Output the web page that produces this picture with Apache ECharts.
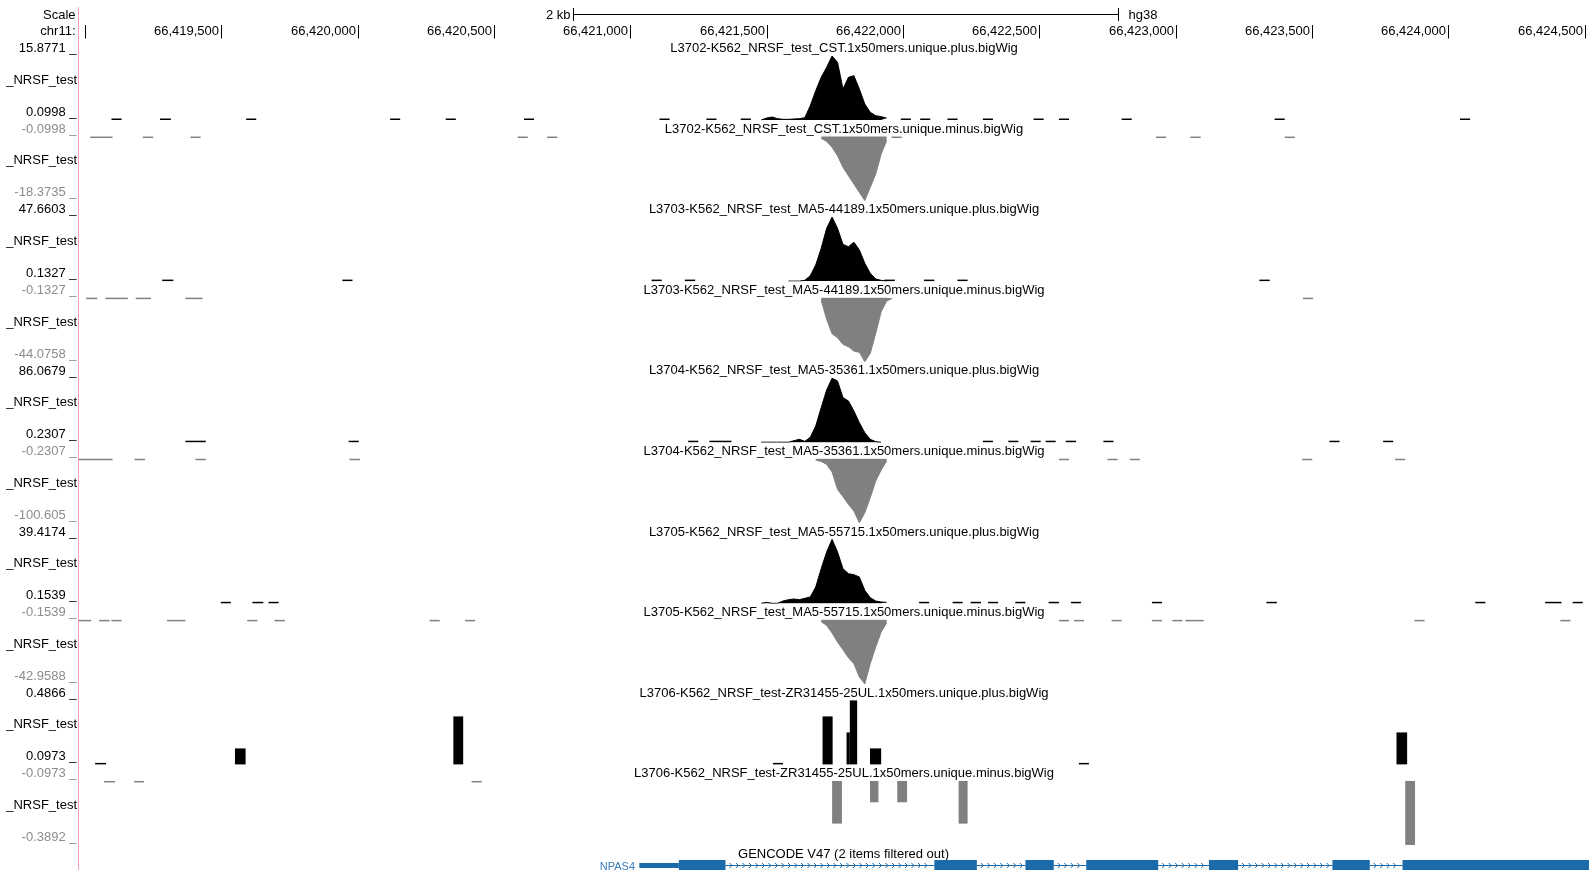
<!DOCTYPE html>
<html><head><meta charset="utf-8">
<script src="https://cdn.jsdelivr.net/npm/echarts@6/dist/echarts.min.js"></script>
<style>html,body{margin:0;padding:0;background:#fff;overflow:hidden}#c{width:1589px;height:870px}</style>
</head><body><div id="c"></div><script>
// ---------- data ----------
const CHROM_LABEL = 'chr11:';
const VIEW_START = 66418978, VIEW_END = 66424516;
const ORIGIN = 66419000; // offsets in dash arrays are relative to this position
const RULER_TICKS = [66419000,66419500,66420000,66420500,66421000,66421500,66422000,66422500,66423000,66423500,66424000,66424500];
const RULER_LABELS = ['','66,419,500','66,420,000','66,420,500','66,421,000','66,421,500','66,422,000','66,422,500','66,423,000','66,423,500','66,424,000','66,424,500'];
const SCALE_BAR = [66420788, 66422788];
const SCALE_TEXT = ['2 kb', 'hg38'];

const TITLES = [
 'L3702-K562_NRSF_test_CST.1x50mers.unique.plus.bigWig',
 'L3702-K562_NRSF_test_CST.1x50mers.unique.minus.bigWig',
 'L3703-K562_NRSF_test_MA5-44189.1x50mers.unique.plus.bigWig',
 'L3703-K562_NRSF_test_MA5-44189.1x50mers.unique.minus.bigWig',
 'L3704-K562_NRSF_test_MA5-35361.1x50mers.unique.plus.bigWig',
 'L3704-K562_NRSF_test_MA5-35361.1x50mers.unique.minus.bigWig',
 'L3705-K562_NRSF_test_MA5-55715.1x50mers.unique.plus.bigWig',
 'L3705-K562_NRSF_test_MA5-55715.1x50mers.unique.minus.bigWig',
 'L3706-K562_NRSF_test-ZR31455-25UL.1x50mers.unique.plus.bigWig',
 'L3706-K562_NRSF_test-ZR31455-25UL.1x50mers.unique.minus.bigWig'
];
const SHORT_LABEL = '_NRSF_test';
const TOP_LABELS = ['15.8771','-0.0998','47.6603','-0.1327','86.0679','-0.2307','39.4174','-0.1539','0.4866','-0.0973'];
const BOTTOM_LABELS = ['0.0998','-18.3735','0.1327','-44.0758','0.2307','-100.605','0.1539','-42.9588','0.0973','-0.3892'];
const AXIS_TOP = [15.8771,-0.0998,47.6603,-0.1327,86.0679,-0.2307,39.4174,-0.1539,0.4866,-0.0973];
const AXIS_BOTTOM = [0.0998,-18.3735,0.1327,-44.0758,0.2307,-100.605,0.1539,-42.9588,0.0973,-0.3892];

// peak coverage sampled every 20 bp
const PEAK_POS = [66421480,66421500,66421520,66421540,66421560,66421580,66421600,66421620,66421640,66421660,66421680,66421700,66421720,66421740,66421760,66421780,66421800,66421820,66421840,66421860,66421880,66421900,66421920,66421940,66421960];
const T1_PLUS  = [0.1,0.59,0.84,0.43,0.26,0.26,0.35,0.43,0.67,3.63,7.33,10.62,13.08,15.88,14.31,7.74,10.62,11.03,7.74,4.04,1.99,1.17,0.92,0.59,null];
const T1_MINUS = [null,null,null,null,null,null,null,null,null,null,null,-0.62,-1.48,-3.19,-5.58,-8.9,-11.28,-13.66,-16.04,-18.37,-14.61,-10.8,-5.09,-1.29,null];
const T2_PLUS  = [null,null,null,null,null,0.13,0.13,0.13,0.7,4.17,12.09,24.46,39.3,47.66,39.3,27.4,25.7,29.0,23.3,13.4,5.9,1.7,0.7,0.13,null];
const T2_MINUS = [null,null,null,null,null,null,null,null,null,null,null,-1.78,-15.0,-25.0,-27.64,-32.22,-33.82,-36.8,-37.7,-44.07,-38.4,-24.67,-9.79,-2.47,-0.64];
const T3_PLUS  = [0.23,0.23,0.23,0.23,0.23,0.23,2.3,4.1,1.4,6.76,21.96,46.5,70.2,86.06,82.3,59.96,55.5,42.1,26.4,13.0,4.1,0.95,0.23,null,null];
const T3_MINUS = [null,null,null,null,null,null,null,null,null,null,-2.27,-4.36,-9.07,-21.09,-48.27,-59.77,-71.8,-82.26,-100.6,-84.87,-61.34,-35.2,-17.95,-3.84,null];
const T4_PLUS  = [0.15,0.75,0.15,0.15,1.56,2.38,2.79,2.38,3.2,4.02,10.15,21.4,31.6,39.41,31.6,21.4,18.33,17.72,16.29,8.1,3.61,1.56,0.95,0.75,null];
const T4_MINUS = [null,null,null,null,null,null,null,null,null,null,null,-1.4,-3.86,-8.98,-15.0,-20.13,-25.48,-29.49,-38.4,-42.95,-29.49,-18.35,-8.31,-2.29,null];

// isolated single-read marks: [startOffset, endOffset] from ORIGIN
const T1_PLUS_DASHES = [[97,134],[275,315],[591,628],[1119,1156],[1323,1360],[1610,1647],[2107,2144],[2279,2316],[2405,2442],[2992,3029],[3063,3100],[3163,3200],[3293,3330],[3479,3516],[3572,3609],[3802,3839],[4363,4400],[5043,5080]];
const T1_MINUS_DASHES = [[19,101],[212,250],[387,424],[1587,1624],[1695,1732],[2958,2995],[3928,3965],[4054,4092],[4400,4437]];
const T2_PLUS_DASHES = [[283,324],[944,981],[2078,2115],[2200,2238],[2932,2970],[3077,3115],[3200,3237],[4307,4345]];
const T2_MINUS_DASHES = [[4,45],[75,157],[186,242],[368,431],[4467,4504]];
const T3_PLUS_DASHES = [[368,443],[967,1004],[2212,2249],[2290,2371],[3293,3330],[3386,3423],[3468,3505],[3523,3560],[3597,3635],[3735,3772],[4564,4601],[4761,4798]];
const T3_MINUS_DASHES = [[-22,101],[182,220],[405,443],[970,1008],[3572,3609],[3750,3787],[3832,3869],[4464,4501],[4805,4842]];
const T4_PLUS_DASHES = [[498,535],[614,654],[673,710],[3059,3096],[3182,3219],[3248,3286],[3312,3349],[3412,3449],[3534,3572],[3616,3653],[3913,3950],[4333,4371],[5099,5136],[5355,5415],[5456,5493]];
const T4_MINUS_DASHES = [[-22,23],[52,90],[97,134],[301,368],[595,632],[695,733],[1264,1301],[1394,1431],[3572,3609],[3627,3664],[3765,3802],[3913,3950],[3988,4025],[4036,4103],[4876,4913],[5411,5448]];

// track 5 read pile-ups: [start, end, value]
const T5_PLUS_BARS = [[66419037,66419077,0.0973],[66419550,66419589,0.1946],[66420351,66420387,0.3892],[66421523,66421560,0.0973],[66421705,66421742,0.3892],[66421793,66421805,0.2919],[66421805,66421832,0.4866],[66421879,66421920,0.1946],[66422645,66422682,0.0973],[66423810,66423849,0.2919]];
const T5_MINUS_BARS = [[66419070,66419110,-0.0973],[66419180,66419216,-0.0973],[66420418,66420455,-0.0973],[66421740,66421776,-0.2919],[66421879,66421910,-0.1946],[66421979,66422015,-0.1946],[66422204,66422237,-0.2919],[66423842,66423878,-0.3892]];

// gene model
const GENE_TITLE = 'GENCODE V47 (2 items filtered out)';
const GENE_NAME = 'NPAS4';
const GENE_BLOCKS = [[66421033,66421178,0],[66421178,66421349,1],[66422115,66422271,1],[66422449,66422553,1],[66422672,66422936,1],[66423122,66423229,1],[66423575,66423712,1],[66423832,66424600,1]];
const GENE_INTRONS = [[66421349,66422115],[66422271,66422449],[66422553,66422672],[66422936,66423122],[66423229,66423575],[66423712,66423832]];

// ---------- layout / style ----------
const FONT = '13px "Liberation Sans", Arial, Helvetica, sans-serif';
const LEFT = 79, TOP0 = 56, STEP = 80.55, H = 64, TITLE_X = 844, LABEL_X = 76.5;
const PLUS_COLOR = '#000000', MINUS_COLOR = '#808080', GENE_COLOR = '#1b6aaa';

const chart = echarts.init(document.getElementById('c'), null, {renderer: 'canvas'});

const peaks = [T1_PLUS,T1_MINUS,T2_PLUS,T2_MINUS,T3_PLUS,T3_MINUS,T4_PLUS,T4_MINUS,null,null];
const dashes = [T1_PLUS_DASHES,T1_MINUS_DASHES,T2_PLUS_DASHES,T2_MINUS_DASHES,T3_PLUS_DASHES,T3_MINUS_DASHES,T4_PLUS_DASHES,T4_MINUS_DASHES,null,null];

const grids = [], xAxes = [], yAxes = [], series = [], graphics = [];

function addAxes(top, height, ymin, ymax) {
  const idx = grids.length;
  grids.push({left: LEFT, right: 0, top: top, height: height, containLabel: false});
  xAxes.push({type: 'value', gridIndex: idx, min: VIEW_START, max: VIEW_END, show: false});
  yAxes.push({type: 'value', gridIndex: idx, min: ymin, max: ymax, show: false});
  return idx;
}

function rectRenderer(isMinus, color) {
  return function (params, api) {
    const s = api.value(0), e = api.value(1), v = api.value(2);
    const p0 = api.coord([s, v]), p1 = api.coord([e, v]);
    const cs = params.coordSys;
    let y0, y1;
    if (!isMinus) { y1 = cs.y + cs.height; y0 = Math.min(p0[1], y1 - 1.5); }
    else { y0 = cs.y; y1 = Math.max(p0[1], y0 + 1.5); }
    return {type: 'rect', shape: {x: p0[0], y: y0, width: Math.max(p1[0] - p0[0], 1), height: y1 - y0}, style: {fill: color}};
  };
}

function txt(text, x, y, align, color, font) {
  graphics.push({type: 'text', x: 0, y: 0, silent: true,
    style: {text: text, x: x, y: y, font: font || FONT, fill: color || '#000', textAlign: align, align: align, textVerticalAlign: 'middle', verticalAlign: 'middle'}});
}

for (let k = 0; k < 10; k++) {
  const isMinus = k % 2 === 1;
  const top = TOP0 + STEP * k;
  const color = isMinus ? MINUS_COLOR : PLUS_COLOR;
  const ymin = AXIS_BOTTOM[k];
  const ymax = AXIS_TOP[k];
  const g = addAxes(top, H, Math.min(ymin, ymax), Math.max(ymin, ymax));
  const base = isMinus ? AXIS_TOP[k] : AXIS_BOTTOM[k];
  // titles & labels
  txt(TITLES[k], TITLE_X, top - 7.3, 'center', '#000');
  txt(TOP_LABELS[k] + ' _', LABEL_X, top - 7.2, 'right', isMinus ? '#8c8c8c' : '#000');
  txt(SHORT_LABEL, LABEL_X + 0.5, top + 24.3, 'right', '#000');
  txt(BOTTOM_LABELS[k] + ' _', LABEL_X, top + 56.3, 'right', isMinus ? '#8c8c8c' : '#000');

  if (dashes[k]) {
    series.push({type: 'custom', xAxisIndex: g, yAxisIndex: g, silent: true,
      renderItem: rectRenderer(isMinus, color), encode: {x: [0, 1], y: 2},
      data: dashes[k].map(d => [ORIGIN + d[0], ORIGIN + d[1], base])});
  }
  if (peaks[k]) {
    series.push({type: 'line', xAxisIndex: g, yAxisIndex: g, silent: true, showSymbol: false, symbol: 'none',
      connectNulls: false, animation: false,
      lineStyle: {color: color, width: 1}, itemStyle: {color: color},
      areaStyle: {color: color, opacity: 1, origin: isMinus ? 'end' : 'start'},
      data: PEAK_POS.map((p, i) => [p, peaks[k][i]])});
  }
  if (k === 8 || k === 9) {
    series.push({type: 'custom', xAxisIndex: g, yAxisIndex: g, silent: true,
      renderItem: rectRenderer(isMinus, color), encode: {x: [0, 1], y: 2},
      data: k === 8 ? T5_PLUS_BARS : T5_MINUS_BARS});
  }
}

// header ruler
const hg = addAxes(0, 45, 0, 45);
series.push({type: 'custom', xAxisIndex: hg, yAxisIndex: hg, silent: true, encode: {x: 0},
  data: RULER_TICKS.map((t, i) => [t, i]),
  renderItem: function (params, api) {
    const x = Math.round(api.coord([api.value(0), 0])[0]) + 0.5;
    const label = RULER_LABELS[api.value(1)];
    return {type: 'group', children: [
      {type: 'line', shape: {x1: x, y1: 25, x2: x, y2: 38.5}, style: {stroke: '#000', lineWidth: 1}},
      {type: 'text', style: {text: label, x: x - 2.5, y: 31.8, font: FONT, fill: '#000', textAlign: 'right', align: 'right', textVerticalAlign: 'middle', verticalAlign: 'middle'}}
    ]};
  }});
series.push({type: 'custom', xAxisIndex: hg, yAxisIndex: hg, silent: true, encode: {x: [0, 1]},
  data: [SCALE_BAR],
  renderItem: function (params, api) {
    const x0 = Math.round(api.coord([api.value(0), 0])[0]) + 0.5;
    const x1 = Math.round(api.coord([api.value(1), 0])[0]) + 0.5;
    const y = 14.5;
    return {type: 'group', children: [
      {type: 'line', shape: {x1: x0, y1: y, x2: x1, y2: y}, style: {stroke: '#000', lineWidth: 1}},
      {type: 'line', shape: {x1: x0, y1: 8, x2: x0, y2: 21}, style: {stroke: '#000', lineWidth: 1}},
      {type: 'line', shape: {x1: x1, y1: 8, x2: x1, y2: 21}, style: {stroke: '#000', lineWidth: 1}},
      {type: 'text', style: {text: SCALE_TEXT[0], x: x0 - 3, y: 15, font: FONT, fill: '#000', textAlign: 'right', align: 'right', textVerticalAlign: 'middle', verticalAlign: 'middle'}},
      {type: 'text', style: {text: SCALE_TEXT[1], x: x1 + 10, y: 15, font: FONT, fill: '#000', textAlign: 'left', align: 'left', textVerticalAlign: 'middle', verticalAlign: 'middle'}}
    ]};
  }});
txt('Scale', 75.5, 15.2, 'right', '#000');
txt(CHROM_LABEL, 75.5, 31.8, 'right', '#000');

// gene track
const gg = addAxes(861, 11, 0, 1);
series.push({type: 'custom', xAxisIndex: gg, yAxisIndex: gg, silent: true, encode: {x: [0, 1]},
  data: GENE_INTRONS,
  renderItem: function (params, api) {
    const x0 = api.coord([api.value(0), 0.5])[0], x1 = api.coord([api.value(1), 0.5])[0];
    const cy = api.coord([api.value(0), 0.5])[1];
    const ch = [{type: 'line', shape: {x1: x0, y1: cy, x2: x1, y2: cy}, style: {stroke: GENE_COLOR, lineWidth: 1}}];
    for (let x = x0 + 4; x + 3 < x1 - 1; x += 6.5) {
      ch.push({type: 'polyline', shape: {points: [[x, cy - 2.5], [x + 2.5, cy], [x, cy + 2.5]]}, style: {stroke: GENE_COLOR, lineWidth: 1, fill: null}});
    }
    return {type: 'group', children: ch};
  }});
series.push({type: 'custom', xAxisIndex: gg, yAxisIndex: gg, silent: true, encode: {x: [0, 1]},
  data: GENE_BLOCKS,
  renderItem: function (params, api) {
    const p0 = api.coord([api.value(0), 0.5]), p1 = api.coord([api.value(1), 0.5]);
    const half = api.value(2) ? 5.5 : 2.6;
    return {type: 'rect', shape: {x: p0[0], y: p0[1] - half, width: p1[0] - p0[0], height: half * 2}, style: {fill: GENE_COLOR}};
  }});
txt(GENE_TITLE, 843.5, 854.5, 'center', '#000');
txt(GENE_NAME, 635, 866.5, 'right', '#3b7dbf', '11px "Liberation Sans", Arial, sans-serif');

// pink separator
graphics.push({type: 'rect', silent: true, shape: {x: 78, y: 7, width: 1, height: 863}, style: {fill: '#f4a2b2'}});

chart.setOption({
  animation: false,
  backgroundColor: '#fff',
  grid: grids, xAxis: xAxes, yAxis: yAxes, series: series,
  graphic: {elements: graphics}
});
</script></body></html>
